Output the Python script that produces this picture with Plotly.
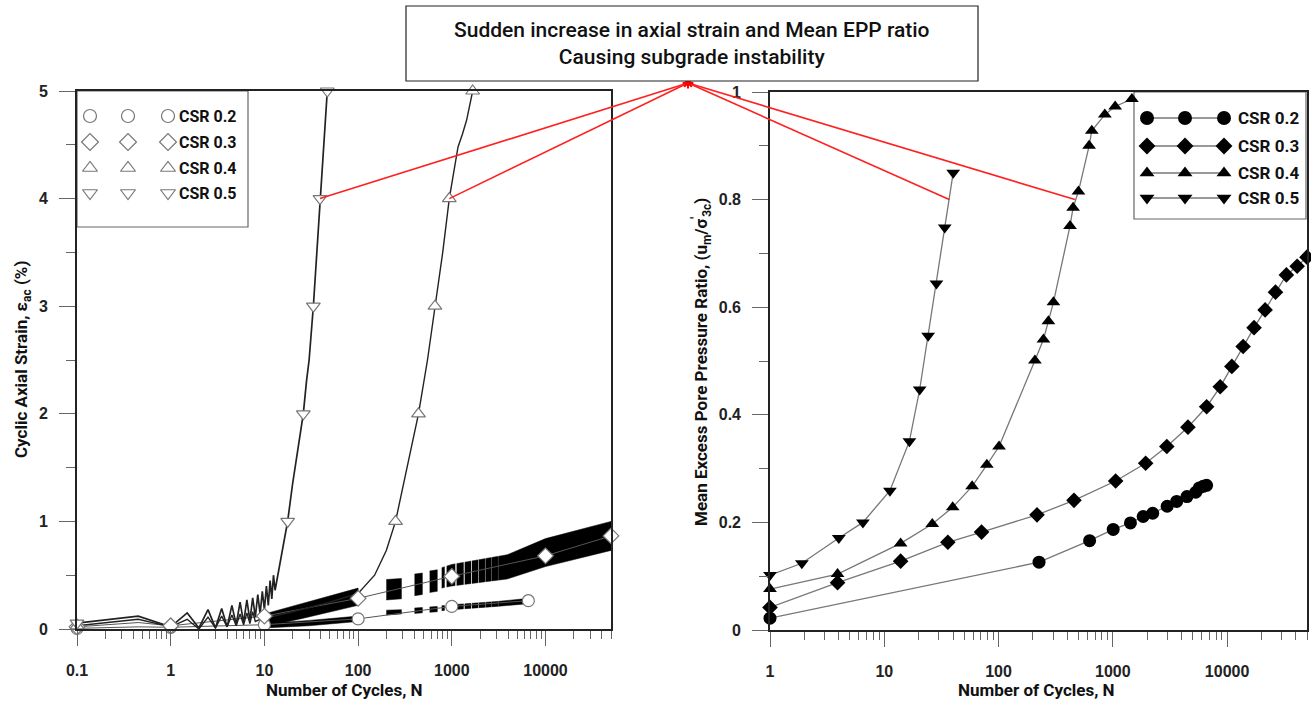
import math
import plotly.graph_objects as go

# Reference canvas (pixels)
W, H = 1311, 705

# ---------------- DATA: right panel (Mean EPP ratio) ----------------
r_n_02 = [1, 226, 626, 1007, 1426, 1842, 2232, 2988, 3620, 4450, 5310, 5700, 6170, 6610]
r_v_02 = [0.022, 0.126, 0.166, 0.187, 0.199, 0.211, 0.217, 0.230, 0.239, 0.248, 0.256, 0.264, 0.267, 0.269]
r_n_03 = [1, 3.9, 13.9, 36, 71, 217, 457, 1058, 1937, 2966, 4540, 6620, 8700, 11000, 13800, 17200, 21500, 26500, 33000, 41000, 50000]
r_v_03 = [0.042, 0.088, 0.128, 0.163, 0.182, 0.214, 0.241, 0.277, 0.310, 0.341, 0.377, 0.415, 0.452, 0.49, 0.527, 0.562, 0.595, 0.628, 0.66, 0.676, 0.693]
r_n_04 = [1, 3.9, 13.9, 26.3, 39.7, 58.7, 79, 101, 208, 247, 273, 302, 422, 449, 500, 620, 654, 851, 1048, 1468]
r_v_04 = [0.076, 0.104, 0.161, 0.197, 0.228, 0.267, 0.307, 0.341, 0.501, 0.540, 0.574, 0.609, 0.751, 0.785, 0.815, 0.900, 0.928, 0.958, 0.973, 0.987]
r_n_05 = [1, 1.9, 4.0, 6.5, 11.2, 16.6, 20.4, 24.2, 28.6, 33.8, 40.1]
r_v_05 = [0.102, 0.124, 0.171, 0.200, 0.259, 0.351, 0.447, 0.547, 0.644, 0.748, 0.850]

# ---------------- DATA: left panel (cyclic axial strain, %) ----------------
lm_n_02 = [0.1, 1, 10, 100, 1000, 6560]
lm_v_02 = [0.006, 0.016, 0.04, 0.094, 0.21, 0.263]
lm_n_03 = [0.1, 1, 10, 100, 1000, 10000, 50000]
lm_v_03 = [0.02, 0.03, 0.12, 0.285, 0.49, 0.68, 0.865]
lm_n_04 = [0.1, 251, 441, 661, 940, 1670]
lm_v_04 = [0.03, 1.0, 2.0, 3.0, 4.0, 5.0]
lm_n_05 = [0.1, 17.7, 26, 33.3, 39.2, 46.9]
lm_v_05 = [0.055, 1.0, 2.0, 3.0, 4.0, 5.0]
lc_n_02 = [0.1, 0.45, 1, 10, 100, 1000, 6560]
lc_v_02 = [0.006, 0.02, 0.016, 0.04, 0.094, 0.21, 0.263]
lc_n_03 = [0.1, 0.45, 1, 10, 100, 1000, 10000, 50000]
lc_v_03 = [0.02, 0.06, 0.03, 0.12, 0.285, 0.49, 0.68, 0.865]
lc_n_04 = [0.1, 0.45, 1, 1.5, 2, 2.5, 3, 3.5, 4, 4.5, 5, 5.5, 6, 6.5, 7, 7.5, 8,
           9, 10, 20, 50, 100, 150, 200, 251, 330, 441, 550, 661, 800, 940, 1165, 1300, 1440, 1670]
lc_v_04 = [0.03, 0.09, 0.02, 0.09, 0.0, 0.11, 0.01, 0.12, 0.02, 0.13, 0.03, 0.14, 0.04, 0.15, 0.05, 0.16, 0.07,
           0.09, 0.1, 0.16, 0.25, 0.33, 0.5, 0.73, 1.0, 1.5, 2.0, 2.5, 3.0, 3.5, 4.0, 4.48, 4.6, 4.73, 5.0]
lc_n_05 = [0.1, 0.45, 1, 1.5, 2, 2.5, 3, 3.5, 4, 4.5, 5, 5.5, 6, 6.5, 7, 7.5, 8, 8.5, 9, 9.5, 10, 10.5,
           11, 11.5, 12, 12.5, 13, 14, 15, 16, 17.7, 20, 23, 26, 28.2, 30, 33.3, 36, 39.2, 43, 46.9]
lc_v_05 = [0.055, 0.12, 0.02, 0.15, 0.01, 0.18, 0.01, 0.19, 0.02, 0.22, 0.04, 0.25, 0.06, 0.27, 0.08, 0.29,
           0.11, 0.32, 0.14, 0.35, 0.18, 0.40, 0.22, 0.45, 0.28, 0.50, 0.36, 0.52, 0.65, 0.8, 1.0, 1.35, 1.7,
           2.0, 2.31, 2.5, 3.0, 3.45, 4.0, 4.5, 5.0]
# oscillation envelopes (lower / upper strain of the cyclic record)
env_n_04 = [10, 26, 100]
env_lo_04 = [0.02, 0.10, 0.22]
env_hi_04 = [0.14, 0.24, 0.38]
env_n_02a = [10, 30, 100]
env_lo_02a = [0.01, 0.03, 0.07]
env_hi_02a = [0.05, 0.08, 0.12]
blk_n0_03 = [200, 400, 580]
blk_n1_03 = [290, 485, 700]
blk_lo_03 = [(0.27, 0.28), (0.31, 0.32), (0.34, 0.35)]
blk_hi_03 = [(0.46, 0.47), (0.51, 0.52), (0.54, 0.55)]
env_n_03 = [780, 1000, 3900, 10000, 50000]
env_lo_03 = [0.38, 0.40, 0.465, 0.58, 0.73]
env_hi_03 = [0.57, 0.60, 0.69, 0.84, 1.0]
blk_n0_02 = [200, 400, 580]
blk_n1_02 = [290, 485, 700]
blk_lo_02 = [(0.13, 0.14), (0.145, 0.15), (0.155, 0.16)]
blk_hi_02 = [(0.175, 0.18), (0.195, 0.2), (0.205, 0.21)]
env_n_02b = [780, 1000, 3000, 6560]
env_lo_02b = [0.17, 0.18, 0.21, 0.235]
env_hi_02b = [0.215, 0.225, 0.255, 0.285]
# unrecorded gaps in the cyclic record (white stripes)
gap_n0 = [840, 1090, 1340, 1610, 1910, 2260, 2660, 3110]
gap_n1 = [880, 1125, 1372, 1640, 1935, 2282, 2680, 3126]

call_left_n = [39.2, 940]
call_left_v = [4.0, 4.0]
call_right_n = [37, 466]
call_right_v = [0.8, 0.8]

legend_labels = ["CSR 0.2", "CSR 0.3", "CSR 0.4", "CSR 0.5"]
x_tick_left = [0.1, 1, 10, 100, 1000, 10000]
x_tick_right = [1, 10, 100, 1000, 10000]

# ---------------- LAYOUT (pixels) ----------------
L_BOX = (77, 611, 91, 629)
R_BOX = (770, 1307, 92, 630)
L_XR = [-1, math.log10(50000)]
R_XR = [0, math.log10(50000)]
L_YR = [0, 5]
R_YR = [0, 1]

NARROW = "Roboto, Liberation Sans, sans-serif"
BOLDF = "Liberation Sans, Arial, sans-serif"


def pxx(X):
    return X / W


def pxy(Y):
    return 1 - Y / H


def to_px(box, xr, yr, n, v):
    x0, x1, y0, y1 = box
    X = x0 + (math.log10(n) - xr[0]) / (xr[1] - xr[0]) * (x1 - x0)
    Y = y1 - (v - yr[0]) / (yr[1] - yr[0]) * (y1 - y0)
    return X, Y


def poly(n, lo, hi):
    return list(n) + list(n)[::-1], list(lo) + list(hi)[::-1]


fig = go.Figure()
SYM = ["circle", "diamond", "triangle-up", "triangle-down"]
band = dict(mode="lines", fill="toself", xaxis="x", yaxis="y", hoverinfo="skip", showlegend=False)

for n, lo, hi in [(env_n_04, env_lo_04, env_hi_04), (env_n_02a, env_lo_02a, env_hi_02a),
                  (env_n_03, env_lo_03, env_hi_03), (env_n_02b, env_lo_02b, env_hi_02b)]:
    px_, py_ = poly(n, lo, hi)
    fig.add_trace(go.Scatter(x=px_, y=py_, fillcolor="black", line=dict(width=0.5, color="black"), **band))
for n0s, n1s, los, his in [(blk_n0_03, blk_n1_03, blk_lo_03, blk_hi_03),
                           (blk_n0_02, blk_n1_02, blk_lo_02, blk_hi_02)]:
    for a, b, lo, hi in zip(n0s, n1s, los, his):
        px_, py_ = poly([a, b], lo, hi)
        fig.add_trace(go.Scatter(x=px_, y=py_, fillcolor="black", line=dict(width=0.5, color="black"), **band))
for a, b in zip(gap_n0, gap_n1):
    px_, py_ = poly([a, b], [0.15, 0.15], [0.75, 0.75])
    fig.add_trace(go.Scatter(x=px_, y=py_, fillcolor="white", line=dict(width=0), **band))

for n, v, w, c in [(lc_n_02, lc_v_02, 1, "#555"), (lc_n_03, lc_v_03, 1, "#555"),
                   (lc_n_04, lc_v_04, 1.4, "#222"), (lc_n_05, lc_v_05, 1.7, "#222")]:
    fig.add_trace(go.Scatter(x=n, y=v, mode="lines", line=dict(color=c, width=w),
                             xaxis="x", yaxis="y", hoverinfo="skip", showlegend=False))

for n, v, s in [(lm_n_02, lm_v_02, SYM[0]), (lm_n_03, lm_v_03, SYM[1]),
                (lm_n_04, lm_v_04, SYM[2]), (lm_n_05, lm_v_05, SYM[3])]:
    fig.add_trace(go.Scatter(x=n, y=v, mode="markers", cliponaxis=False,
                             marker=dict(symbol=s, size=12, color="white",
                                         line=dict(color="#777", width=1.2)),
                             xaxis="x", yaxis="y", showlegend=False))

for n, v, s, sz in [(r_n_02, r_v_02, SYM[0], 13), (r_n_03, r_v_03, SYM[1], 12),
                    (r_n_04, r_v_04, SYM[2], 12), (r_n_05, r_v_05, SYM[3], 12)]:
    fig.add_trace(go.Scatter(x=n, y=v, mode="lines+markers", cliponaxis=False,
                             line=dict(color="#777", width=1.3),
                             marker=dict(symbol=s, size=sz, color="black"),
                             xaxis="x2", yaxis="y2", showlegend=False))

# ---- overlay axis in pixel space for legends / callouts
ov = dict(xaxis="x3", yaxis="y3", hoverinfo="skip", showlegend=False)
l_rows = [116, 142, 168, 193]
for i, yy in enumerate(l_rows):
    fig.add_trace(go.Scatter(x=[90, 128, 168], y=[yy] * 3, mode="markers",
                             marker=dict(symbol=SYM[i], size=13, color="white",
                                         line=dict(color="#777", width=1.2)), **ov))
r_rows = [118, 146, 173, 198]
for i, yy in enumerate(r_rows):
    fig.add_trace(go.Scatter(x=[1147, 1185, 1224], y=[yy] * 3, mode="lines+markers",
                             line=dict(color="#777", width=1.3),
                             marker=dict(symbol=SYM[i], size=14 if i == 0 else 13, color="black"), **ov))

STAR = (688, 83)
targets = [to_px(L_BOX, L_XR, L_YR, n, v) for n, v in zip(call_left_n, call_left_v)] + \
          [to_px(R_BOX, R_XR, R_YR, n, v) for n, v in zip(call_right_n, call_right_v)]
for tx, ty in targets:
    fig.add_trace(go.Scatter(x=[STAR[0], tx], y=[STAR[1], ty], mode="lines",
                             line=dict(color="#ff2020", width=1.6), **ov))
fig.add_trace(go.Scatter(x=[STAR[0]], y=[STAR[1]], mode="markers",
                         marker=dict(symbol="asterisk-open", size=9, color="red",
                                     line=dict(color="red", width=2)), **ov))

annotations = []
shapes = []
shapes.append(dict(type="rect", xref="paper", yref="paper", x0=pxx(77), x1=pxx(248),
                   y0=pxy(227), y1=pxy(91), line=dict(color="#666", width=1.2),
                   fillcolor="white", layer="below"))
shapes.append(dict(type="rect", xref="paper", yref="paper", x0=pxx(1134), x1=pxx(1306),
                   y0=pxy(219), y1=pxy(92), line=dict(color="#666", width=1.2),
                   fillcolor="white", layer="below"))
for i, yy in enumerate(l_rows):
    annotations.append(dict(text=legend_labels[i], x=pxx(177), y=pxy(yy), xref="paper", yref="paper",
                            xanchor="left", yanchor="middle", showarrow=False,
                            font=dict(family=NARROW, size=16, color="#111", weight="bold")))
for i, yy in enumerate(r_rows):
    annotations.append(dict(text=legend_labels[i], x=pxx(1236), y=pxy(yy), xref="paper", yref="paper",
                            xanchor="left", yanchor="middle", showarrow=False,
                            font=dict(family=NARROW, size=17, color="#111", weight="bold")))
shapes.append(dict(type="rect", xref="paper", yref="paper", x0=pxx(406), x1=pxx(978),
                   y0=pxy(81), y1=pxy(6), line=dict(color="#222", width=1.2),
                   fillcolor="white", layer="above"))
annotations.append(dict(text="Sudden increase in axial strain and Mean EPP ratio<br>Causing subgrade instability",
                        x=pxx(692), y=pxy(44), xref="paper", yref="paper", showarrow=False,
                        xanchor="center", yanchor="middle", align="center",
                        font=dict(family=NARROW, size=21, color="#111", weight=500)))
for cx in (344, 1036):
    annotations.append(dict(text="Number of Cycles, N", x=pxx(cx), y=pxy(690), xref="paper", yref="paper",
                            xanchor="center", yanchor="middle", showarrow=False,
                            font=dict(family=NARROW, size=17, color="#111", weight="bold")))
annotations.append(dict(text="Cyclic Axial Strain, ε<sub>ac</sub> (%)",
                        x=pxx(22), y=pxy(360), xref="paper", yref="paper", textangle=-90,
                        xanchor="center", yanchor="middle",
                        showarrow=False, font=dict(family=NARROW, size=17, color="#111", weight="bold")))
annotations.append(dict(text="Mean Excess Pore Pressure Ratio, (u<sub>m</sub>/σ<sup>'</sup><sub>3c</sub>)",
                        x=pxx(701), y=pxy(362), xref="paper", yref="paper", textangle=-90,
                        xanchor="center", yanchor="middle",
                        showarrow=False, font=dict(family=NARROW, size=17, color="#111", weight="bold")))

minor_left = [k * 10 ** e for e in range(-1, 5) for k in range(2, 10) if k * 10 ** e <= 50000]
minor_right = [k * 10 ** e for e in range(0, 5) for k in range(2, 10) if k * 10 ** e <= 50000]


def fmt(v):
    return "0.1" if v < 1 else str(int(v))


tickfont = dict(family=BOLDF, size=16, color="#222", weight="bold")
common_x = dict(type="log", showline=True, mirror=True, linecolor="#222", linewidth=1.6,
                ticks="outside", ticklen=15, tickwidth=1, tickcolor="#666", showgrid=False,
                zeroline=False, tickfont=tickfont, ticklabelstandoff=11, tickmode="array",
                automargin=False)
common_y = dict(showline=True, mirror=True, linecolor="#222", linewidth=1.6,
                ticks="outside", ticklen=16, tickwidth=1, tickcolor="#666", showgrid=False,
                zeroline=False, tickfont=tickfont, ticklabelstandoff=8, automargin=False)

fig.update_layout(
    width=W, height=H, margin=dict(l=0, r=0, t=0, b=0, pad=0, autoexpand=False),
    paper_bgcolor="white", plot_bgcolor="rgba(0,0,0,0)",
    showlegend=False,
    xaxis=dict(domain=[pxx(L_BOX[0]), pxx(L_BOX[1])], range=L_XR, anchor="y",
               tickvals=x_tick_left, ticktext=[fmt(v) for v in x_tick_left],
               minor=dict(tickvals=minor_left, ticks="outside", ticklen=8, tickcolor="#666"), **common_x),
    yaxis=dict(domain=[pxy(L_BOX[3]), pxy(L_BOX[2])], range=L_YR, anchor="x", dtick=1,
               minor=dict(dtick=0.5, ticks="outside", ticklen=9, tickcolor="#666"), **common_y),
    xaxis2=dict(domain=[pxx(R_BOX[0]), pxx(R_BOX[1])], range=R_XR, anchor="y2",
                tickvals=x_tick_right, ticktext=[fmt(v) for v in x_tick_right],
                minor=dict(tickvals=minor_right, ticks="outside", ticklen=8, tickcolor="#666"), **common_x),
    yaxis2=dict(domain=[pxy(R_BOX[3]), pxy(R_BOX[2])], range=R_YR, anchor="x2", dtick=0.2,
                tickformat="~g",
                minor=dict(dtick=0.1, ticks="outside", ticklen=9, tickcolor="#666"), **common_y),
    xaxis3=dict(domain=[0, 1], range=[0, W], visible=False, anchor="y3",
                fixedrange=True, automargin=False),
    yaxis3=dict(domain=[0, 1], range=[H, 0], visible=False, anchor="x3",
                fixedrange=True, automargin=False),
    annotations=annotations, shapes=shapes,
)

fig.write_html("out.html")
